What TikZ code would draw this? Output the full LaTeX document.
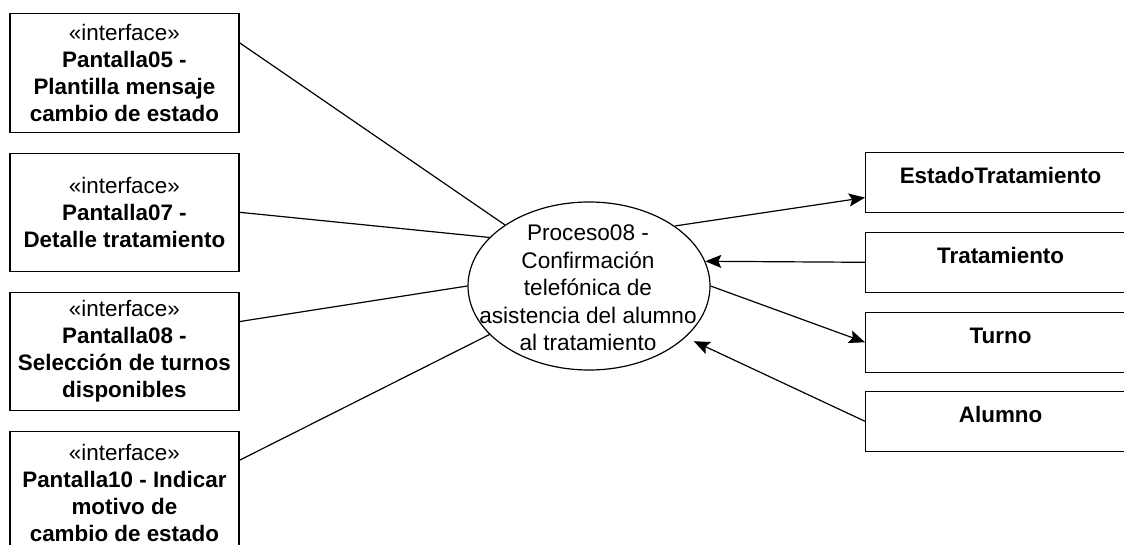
\documentclass[tikz,border=0pt]{standalone}
\usepackage{fontspec}
\setmainfont{Liberation Sans}
\usetikzlibrary{shapes.geometric,arrows.meta,calc}
\tikzset{
  lbox/.style={draw=black, line width=1.2pt, anchor=north west, minimum width=229pt, inner sep=2pt, align=center, font=\fontsize{22.4}{27}\selectfont},
  rbox/.style={draw=black, line width=1.2pt, anchor=north west, minimum width=270pt, text height=16pt, text depth=14pt, inner ysep=15pt, font=\fontsize{22.4}{27}\selectfont\bfseries},
  proc/.style={draw=black, line width=1.2pt, ellipse, minimum width=242pt, minimum height=168pt, inner sep=0pt},
  proctext/.style={align=center, inner sep=0pt, font=\fontsize{22.6}{27.5}\selectfont},
  conn/.style={draw=black, line width=1.2pt},
  arr/.style={conn, -{Stealth[length=16pt, width=13pt, inset=3pt]}}
}
\begin{document}
\begin{tikzpicture}[x=1pt, y=-1pt]
\clip (0,0) rectangle (1124,545);
\fill[white] (0,0) rectangle (1124,545);
\node[lbox, minimum height=119pt] (b1) at (9.3,12.7) {«interface»\\\textbf{Pantalla05 -}\\\textbf{Plantilla mensaje}\\\textbf{cambio de estado}};
\node[lbox, minimum height=118pt] (b2) at (9.3,152.7) {«interface»\\\textbf{Pantalla07 -}\\\textbf{Detalle tratamiento}};
\node[lbox, minimum height=118.3pt] (b3) at (9.3,291.7) {«interface»\\\textbf{Pantalla08 -}\\\textbf{Selección de turnos}\\\textbf{disponibles}};
\node[lbox, minimum height=124pt] (b4) at (9.3,430.7) {«interface»\\\textbf{Pantalla10 - Indicar}\\\textbf{motivo de}\\\textbf{cambio de estado}};
\node[proc] (e) at (589,286) {};
\node[proctext] (et) at (588,288) {Proceso08 -\\Confirmación\\telefónica de\\asistencia del alumno\\al tratamiento};
\node[rbox] (r1) at (865,151.7) {EstadoTratamiento};
\node[rbox] (r2) at (865,231.7) {Tratamiento};
\node[rbox] (r3) at (865,311.7) {Turno};
\node[rbox] (r4) at (865,390.7) {Alumno};
\draw[conn] ($(b1.north east)!0.25!(b1.south east)$) -- (e.144.6);
\draw[conn] (b2.east) -- (e.154.7);
\draw[conn] ($(b3.north east)!0.25!(b3.south east)$) -- (e.180.8);
\draw[conn] ($(b4.north east)!0.236!(b4.south east)$) -- (e.206.3);
\draw[arr] (e.35.3) -- ($(r1.north west)!0.75!(r1.south west)$);
\draw[arr] (r2.west) -- (e.12.6);
\draw[arr] (e.0) -- (r3.west);
\draw[arr, shorten >=9pt] (r4.west) -- (e.332.7);
\end{tikzpicture}
\end{document}
